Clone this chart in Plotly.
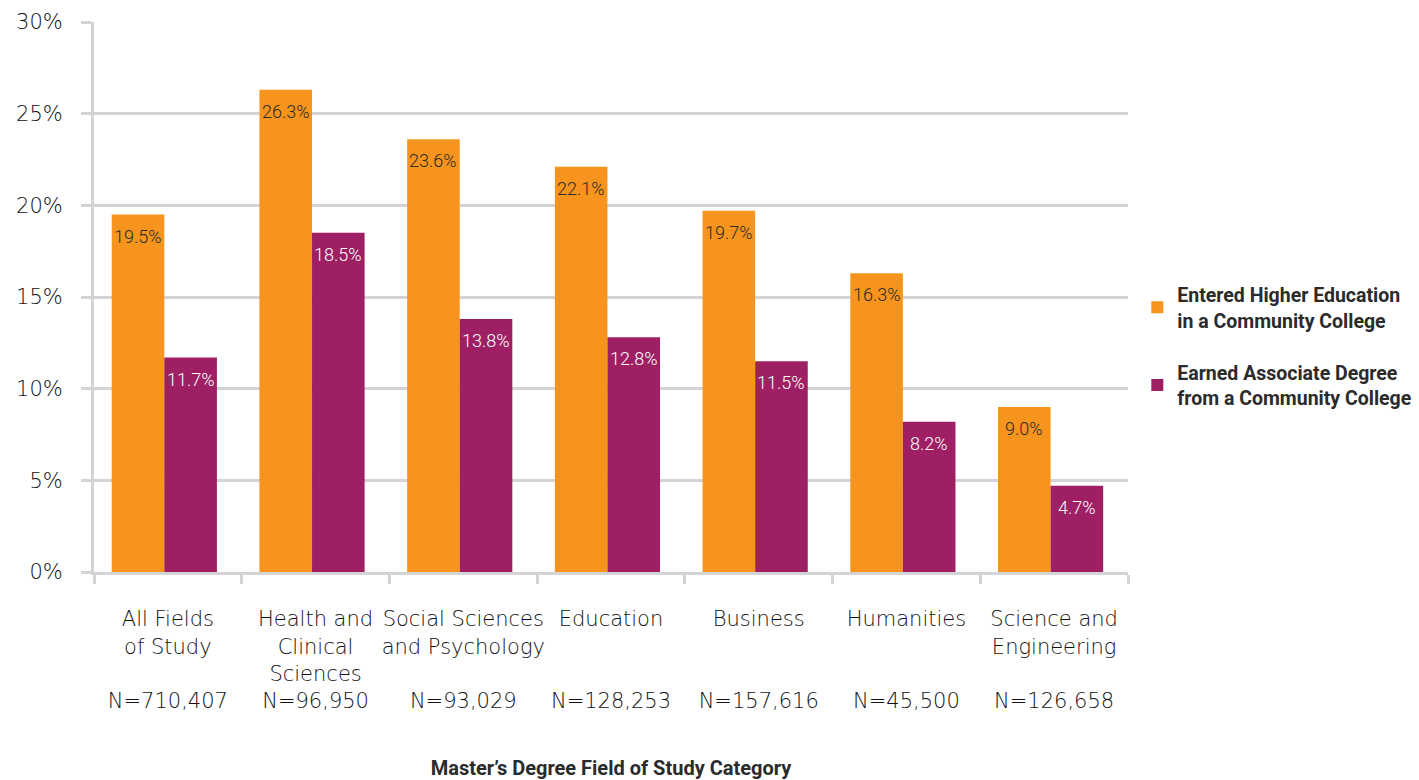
import plotly.graph_objects as go

categories = [
    "All Fields<br>of Study<br> <br>N=710,407",
    "Health and<br>Clinical<br>Sciences<br>N=96,950",
    "Social Sciences<br>and Psychology<br> <br>N=93,029",
    "Education<br> <br> <br>N=128,253",
    "Business<br> <br> <br>N=157,616",
    "Humanities<br> <br> <br>N=45,500",
    "Science and<br>Engineering<br> <br>N=126,658",
]
entered_cc = [19.5, 26.3, 23.6, 22.1, 19.7, 16.3, 9.0]
earned_assoc = [11.7, 18.5, 13.8, 12.8, 11.5, 8.2, 4.7]
series_names = [
    "Entered Higher Education<br>in a Community College",
    "Earned Associate Degree<br>from a Community College",
]
y_ticks = [0, 5, 10, 15, 20, 25, 30]

ORANGE = "#F7941D"
PURPLE = "#9E1F63"
GRID = "#D4D4D6"
TEXT = "#2b2b2b"
NARROW = "Roboto, sans-serif"
BODY = "DejaVu Sans, Liberation Sans, sans-serif"

# bar geometry in category units (one category = 1.0)
BAR_W = 0.356
OFFS = [-0.38, -0.024]
PX_PER_CAT = (1419 - 94 - 291) / len(categories)

fig = go.Figure()
fig.add_trace(go.Bar(x=categories, y=entered_cc, name=series_names[0], legendgroup="a",
                     width=BAR_W, offset=OFFS[0],
                     marker=dict(color=ORANGE, line=dict(width=0))))
fig.add_trace(go.Bar(x=categories, y=earned_assoc, name=series_names[1], legendgroup="b",
                     width=BAR_W, offset=OFFS[1],
                     marker=dict(color=PURPLE, line=dict(width=0))))

# value labels just inside the top of each bar
for vals, off, col in [(entered_cc, OFFS[0], TEXT), (earned_assoc, OFFS[1], "white")]:
    shift = (off + BAR_W / 2) * PX_PER_CAT
    for cat, v in zip(categories, vals):
        fig.add_annotation(x=cat, y=v, xref="x", yref="y", text=f"{v:.1f}%",
                           showarrow=False, xshift=shift, yshift=-9, yanchor="top",
                           font=dict(family=NARROW, size=18, color=col, weight=300))

fig.update_layout(
    width=1419, height=780,
    margin=dict(l=94, r=291, t=22, b=208, autoexpand=False),
    paper_bgcolor="white", plot_bgcolor="white",
    barmode="overlay",
    showlegend=True,
    legend=dict(x=1.009, y=0.41, xanchor="left", yanchor="middle",
                font=dict(family=NARROW, size=19.5, color=TEXT, weight="bold"),
                tracegroupgap=24, itemsizing="constant"),
    font=dict(family=BODY, color=TEXT),
)
fig.update_xaxes(
    automargin=False, tickangle=0,
    showline=True, linecolor=GRID, linewidth=3,
    ticks="outside", tickson="boundaries", ticklen=9, tickwidth=3, tickcolor=GRID,
    tickfont=dict(family=BODY, size=21, color="#111111", weight=300),
    ticklabelstandoff=26,
    title=dict(text="<b>Master’s Degree Field of Study Category</b>",
               font=dict(family=NARROW, size=20, color=TEXT), standoff=57),
)
fig.update_yaxes(
    automargin=False,
    range=[0, 30], tickvals=y_ticks, ticktext=[f"{t}%" for t in y_ticks],
    showgrid=True, gridcolor=GRID, gridwidth=3, zeroline=False,
    showline=True, linecolor=GRID, linewidth=3,
    ticks="outside", ticklen=10, tickwidth=3, tickcolor=GRID,
    tickfont=dict(family=BODY, size=21, color="#111111", weight=300),
    ticklabelstandoff=14,
)

fig.write_html("out.html")
